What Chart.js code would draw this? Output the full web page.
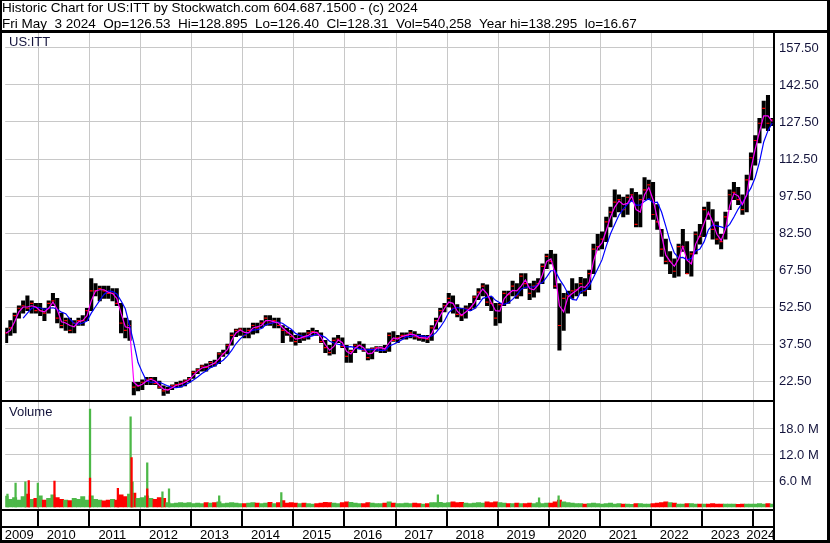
<!DOCTYPE html>
<html><head><meta charset="utf-8">
<script src="https://cdn.jsdelivr.net/npm/chart.js@4.4.1/dist/chart.umd.min.js"></script>
<style>html,body{margin:0;padding:0;background:#fff;overflow:hidden}canvas{display:block}</style>
</head><body>
<canvas id="c" width="830" height="543" style="width:830px;height:543px"></canvas>
<script>
// ---------- text ----------
const TITLE_LINES = [
  'Historic Chart for US:ITT by Stockwatch.com 604.687.1500 - (c) 2024',
  'Fri May  3 2024  Op=126.53  Hi=128.895  Lo=126.40  Cl=128.31  Vol=540,258  Year hi=138.295  lo=16.67'
];
const SYMBOL_LABEL = 'US:ITT';
const VOLUME_LABEL = 'Volume';
const YEAR_LABELS = ['2009','2010','2011','2012','2013','2014','2015','2016','2017','2018','2019','2020','2021','2022','2023','2024'];
const PRICE_TICKS = [22.5,30,37.5,45,52.5,60,67.5,75,82.5,90,97.5,105,112.5,120,127.5,135,142.5,150,157.5];
const VOLUME_TICKS = [6,12,18];

// ---------- monthly data, May 2009 .. May 2024 ----------
const FIRST_MONTH = '2009-05';
const HIGH = [
  44,47,50,53,55,57,55,54,
  54,52,55,58,56,50,48,48,47,48,49,52,
  64,62,61,61,61,60,60,54,48,47,22,22,
  23,24,24,24,22.5,20.5,20,21,22,22.5,23,24,
  26.5,27.5,29,29.5,30.5,31,34,35,37.5,42,43.5,44,
  44,44,46,46,47,49,49,48,48,45,44,43,
  41,42,42,43,44,43,42,39,37,40,41,40,
  37,35,37.5,38.5,37.5,35.5,36,36.5,36.5,37,42,42.5,
  41,42,42,43,42.5,41.5,41,41,45,48,52,54,
  58,57,53.5,52,53,54,57,60,62,61.5,56.5,54,
  54,59,59,63,62,66,66,62,63,64,70,74,
  75.5,74,62,58,59,64,62,64.5,64,67.5,78,82,
  83,89,93,100,98,97,98,100.5,99,98,105,104,
  103,94,84,80,75,72,78,84,79,75,83,86,
  93,95,92,87,82,91,100,103,101,98,106,115,
  122,129,136,138.3,129
];
const LOW = [
  38,41,42,48,50,51,50,50,
  49,47,50,53,46,44,43,42,42,45,45,47,
  51,57,55,56,56,55,53,42,40,39,16.9,18.5,
  19,21,21,21,19.5,16.67,17.5,19,20,20,20.5,22,
  23.5,25.5,26.5,26.5,28,28.5,29.5,32.5,33.5,37,40.5,41,
  40,40,41.5,42,44,45,45,44,44,38,41,38.5,
  37,38,39,39.5,41,41,38,34,33,33.5,38,36,
  30,30,34,35.5,34.5,31,31.5,34.5,34,34,34.5,38.5,
  38,39.5,39.5,40,39.5,39,38.5,38,39,43.5,46.5,50.5,
  52.5,50,48.5,47,48,51,52,55.5,57,53,51,45,
  46,53,54,57,56,57,60,55.5,56.5,58.5,62,68,
  70,60,35,43,50,56,57,58,57,59.5,66,75.5,
  76,79,85,89,91,89,90,95.5,85,85,96,96,
  88,84,73,70,66,64.5,65,75,66,65,74,78,
  81,88,80,78,76,80,92,96,94,90,91,104,
  110,119,125,124,126
];
const CLOSE = [
  42,44,49,52,53,52,54,51,
  51,50,54,55,48,45,47,43,46,47,47,51,
  59,59,60,59,58,58,54,46,43,45,20,20.5,
  22,23,23.5,21.5,20,18.5,19,20.5,21,21.5,22.5,23.5,
  26,27,28.5,28,30,29.5,33.5,33.5,37,41,43,43.5,
  41,43,45,44,46,48,46,47,45,43,42,40.5,
  38.5,41,40,42,42.5,42,38.5,36,34,39,39.5,36.5,
  32.5,34.5,37,37,35,32,35.5,36,36,35,41,39,
  40,41,41,42,40.5,40,40,39.5,44,47,51,53,
  56,52,49.5,49,52,52,56.5,58.5,61,54.5,54,48,
  53.5,58,57.5,61,57,65,62,58,61,62,69,73,
  71,61,45,56,57,59,59.5,62,59,66,76,77,
  80,87,91,95,96,92,97,98,86,96,100,102,
  90,87,76,71,71,67,77,77,66,74,82,81,
  92,90,84,80,79,89,98,99,96,92,104,113,
  120,127,133,127,128.31
];
const MA_FAST = [
  42,43,46.5,50.5,52.5,52.5,53,52.5,
  51,50.5,52,54.5,51.5,46.5,46,45,44.5,46.5,47,49,
  55,59,59.5,59.5,58.5,58,56,50,44.5,44,22,20.5,
  21.2,22.5,23.2,22.5,20.8,19.2,18.8,19.8,20.8,21.2,22,23,
  24.8,26.5,27.8,28.2,29,29.8,31.5,33.5,35.2,39,42,43.2,
  42.2,42,44,44.5,45,47,47,46.5,46,44,42.5,41.2,
  39.5,39.8,40.5,41,42.2,42.2,40.2,37.2,35,36.5,39.2,38,
  34.5,33.5,35.8,37,36,33.5,33.8,35.8,36,35.5,38,40,
  39.5,40.5,41,41.5,41.2,40.2,40,39.8,41.8,45.5,49,52,
  54.5,54,50.8,49.2,50.5,52,54.2,57.5,59.8,57.8,54.2,51,
  50.8,55.8,57.8,59.2,59,61,63.5,60,59.5,61.5,65.5,71,
  72,66,53,50.5,56.5,58,59.2,60.8,60.5,62.5,71,76.5,
  78.5,83.5,89,93,95.5,94,94.5,97.5,92,91,98,101,
  96,88.5,81.5,73.5,71,69,72,77,71.5,70,78,81.5,
  86.5,91,87,82,79.5,84,93.5,98.5,97.5,94,98,108.5,
  116.5,123.5,130,130,127.7
];
const MA_SLOW = [
  null,null,null,null,48,50,52,52.4,
  52.2,51.6,52,52.2,51.6,50.4,49.8,47.6,45.8,45.6,46,46.8,
  50,52.6,55.2,57.6,59,58.8,57.8,55,51.8,45,38,30,
  26,22.5,22,22.1,22,21.3,20.5,19.9,19.8,20.1,20.9,21.8,
  22.9,24.1,25.5,26.6,27.9,28.6,29.9,30.9,32.7,34.9,37.6,39.6,
  41.1,42.3,43.1,43.3,43.8,45.2,45.8,46.2,46.4,45.8,44.6,43.5,
  41.8,41,40.4,40.4,40.8,41.5,41,40.2,38.6,37.9,37.4,37,
  36.3,36.4,36,35.5,35.2,35.1,35.3,35.1,34.9,34.9,36.7,37.4,
  38.2,39.2,40.4,40.6,40.9,40.9,40.7,40.4,40.8,42.1,44.3,46.9,
  50.2,51.8,52.3,51.9,51.7,50.9,51.8,53.6,56,56.5,56.9,55.2,
  54.2,53.6,54.2,55.6,57.4,59.7,60.5,60.6,60.6,61.6,62.4,64.6,
  67.2,67.2,63.8,61.2,58,55.6,55.3,58.7,59.3,61.1,64.5,68,
  71.6,77.2,82.2,86,89.8,92.2,94.2,95.6,93.8,93.8,95.4,96.4,
  94.8,95,91,85.2,79,74.4,72.4,72.6,71.6,72.2,75.2,76,
  79,83.8,85.8,85.4,85,84.4,86,89,92.2,94.8,97.8,100.8,
  105,111.2,119.4,124,127.1
];
// typical weekly volume in each month, millions
const VOLUME = [
  2.5,1.8,2.2,1.6,2.4,3.0,1.8,2.0,
  2.6,1.6,2.0,2.8,2.2,1.8,1.6,1.5,2.0,1.8,2.4,1.6,
  2.6,1.8,1.6,1.4,1.6,1.8,1.6,2.8,2.4,3.0,3.2,2.0,
  2.2,2.6,2.0,1.8,2.2,2.0,1.0,0.8,0.9,1.0,0.9,1.0,
  0.8,0.9,0.8,1.0,0.9,1.0,1.2,0.8,0.9,1.0,0.9,0.8,
  0.8,0.9,1.0,0.9,0.8,0.9,1.1,0.8,1.0,1.5,0.9,1.0,
  0.9,0.8,0.9,0.8,0.7,0.8,0.9,1.1,1.0,0.9,0.8,1.0,
  1.2,1.1,0.9,0.8,0.8,1.0,0.9,0.8,0.8,0.9,1.2,0.9,
  0.8,0.8,0.9,0.8,0.9,0.8,0.7,0.8,1.0,1.0,1.1,0.9,
  1.0,1.2,1.0,1.1,0.9,0.8,0.9,1.0,0.9,1.2,1.0,1.2,
  1.0,0.9,0.8,0.8,0.9,0.8,0.8,0.9,0.8,1.0,0.8,0.9,
  0.9,1.2,1.6,1.2,1.0,0.9,0.8,0.8,0.7,0.8,0.9,0.8,
  0.7,0.8,0.9,0.7,0.8,0.7,0.7,0.6,0.8,0.8,0.7,0.7,
  0.8,0.9,1.0,1.2,1.0,0.9,0.7,0.7,0.8,0.8,0.7,0.7,
  0.7,0.7,0.8,0.7,0.7,0.7,0.7,0.7,0.6,0.7,0.7,0.7,
  0.7,0.8,0.7,0.8,0.7
];
// single heavy-volume weeks, millions
const SPIKE_DATES = ['2009-05-27','2009-07-24','2009-10-02','2009-10-26','2009-12-30','2010-04-28','2011-01-07','2011-01-07','2011-07-25','2011-10-24','2011-10-31','2011-11-07','2012-02-20','2012-02-20','2012-06-08','2012-07-25','2013-07-19','2014-10-06','2017-10-30','2019-10-23','2020-03-11'];
const SPIKE_VOL   = [3.0,5.5,5.8,6.1,5.5,6.0,22.6,6.7,4.3,20.8,11.4,5.8,10.2,4.2,3.5,4.2,2.6,3.3,2.8,2.1,2.6];
const SPIKE_UP    = [true,true,true,false,true,false,true,false,false,true,false,true,true,false,true,true,true,true,true,true,true];

// ---------- styles ----------
const FONT = '"Liberation Sans", Arial, Helvetica, sans-serif';
const TXT = '#14143c';
const GRID = '#c8c8c8';
const GREEN = '#4cb848';
const RED = '#ff0000';
const CLEAR = 'rgba(0,0,0,0)';

// ---------- helpers ----------
const X0 = 2009.357, X1 = 2024.39;
const [fy, fm] = FIRST_MONTH.split('-').map(Number);
const monthX = HIGH.map((_, i) => fy + (fm - 1 + i + 0.5) / 12);
function dateToYear(s) {
  const [y, m, d] = s.split('-').map(Number);
  const start = Date.UTC(y, 0, 1), end = Date.UTC(y + 1, 0, 1);
  return y + (Date.UTC(y, m - 1, d) - start + 43200000) / (end - start);
}
const bounds = YEAR_LABELS.slice(1).map(Number);
const labelPos = new Map();
YEAR_LABELS.forEach((lab) => {
  const y = Number(lab);
  const a = Math.max(y, X0), b = Math.min(y + 1, X1);
  labelPos.set((a + b) / 2 - 0.045, lab);
});
const labelTicks = [X0, ...labelPos.keys(), X1].sort((a, b) => a - b);

const priceBars = monthX.map((x, i) => ({x, y: [LOW[i], HIGH[i]]}));
const closePts = monthX.map((x, i) => ({x, y: CLOSE[i]}));
const fastPts = monthX.map((x, i) => ({x, y: MA_FAST[i]}));
const slowPts = monthX.map((x, i) => ({x, y: MA_SLOW[i]}));
const volPts = monthX.map((x, i) => ({x, y: VOLUME[i]}));
const volColors = CLOSE.map((c, i) => (i === 0 || c >= CLOSE[i - 1]) ? GREEN : RED);
const spikeUp = [], spikeDn = [];
SPIKE_DATES.forEach((d, i) => (SPIKE_UP[i] ? spikeUp : spikeDn).push({x: dateToYear(d), y: SPIKE_VOL[i]}));

// ---------- year grid + frame plugin ----------
const frame = {
  id: 'frame',
  beforeDatasetsDraw(chart) {
    const {ctx, chartArea: ca, scales} = chart;
    ctx.save();
    ctx.strokeStyle = GRID;
    ctx.lineWidth = 1;
    ctx.beginPath();
    bounds.forEach(b => {
      const px = Math.round(scales.x.getPixelForValue(b)) + 0.5;
      ctx.moveTo(px, ca.top);
      ctx.lineTo(px, ca.bottom);
    });
    ctx.stroke();
    ctx.restore();
  },
  afterDraw(chart) {
    const {ctx, chartArea: ca, scales} = chart;
    const xs = scales.x, yV = scales.yV, yP = scales.yP;
    ctx.save();
    ctx.fillStyle = '#000';
    ctx.fillRect(0, 0, 830, 1);            // top
    ctx.fillRect(0, 0, 2, 543);            // left
    ctx.fillRect(827, 0, 3, 543);          // right outer
    ctx.fillRect(0, 540, 830, 3);          // bottom
    ctx.fillRect(0, 30, 830, 3);           // under header
    ctx.fillRect(ca.right, 31, 2, 510);    // plot right border
    ctx.fillRect(0, yV.top, ca.right + 2, 2); // panel separator
    ctx.fillRect(0, ca.bottom, ca.right + 2, 2); // under volume
    ctx.fillRect(0, ca.bottom + 17, ca.right + 2, 2); // under tick row
    bounds.forEach(b => {
      const px = Math.round(xs.getPixelForValue(b));
      ctx.fillRect(px - 1, ca.bottom, 2, 17);
    });
    ctx.fillStyle = TXT;
    ctx.font = '13px ' + FONT;
    ctx.textBaseline = 'middle';
    ctx.textAlign = 'left';
    ctx.fillText(SYMBOL_LABEL, 9, yP.top + 9);
    ctx.fillText(VOLUME_LABEL, 9, yV.top + 12);
    ctx.restore();
  }
};

Chart.defaults.font.family = FONT;
Chart.defaults.color = TXT;

new Chart(document.getElementById('c'), {
  data: {
    datasets: [
      {type: 'line', data: fastPts, yAxisID: 'yP', borderColor: '#ff00ff', borderWidth: 1.2, pointRadius: 0, tension: 0, order: 0},
      {type: 'line', data: slowPts, yAxisID: 'yP', borderColor: '#0000ff', borderWidth: 1.2, pointRadius: 0, tension: 0, spanGaps: false, order: 1},
      {type: 'line', data: closePts, yAxisID: 'yP', showLine: false, pointStyle: 'line', pointRadius: 1.5, pointBorderColor: RED, pointBorderWidth: 1.2, order: 2},
      {type: 'bar', data: priceBars, yAxisID: 'yP', backgroundColor: '#000', barThickness: 3.4, grouped: false, order: 3},
      {type: 'bar', data: spikeDn, yAxisID: 'yV', backgroundColor: RED, barThickness: 1.6, grouped: false, order: 4},
      {type: 'bar', data: spikeUp, yAxisID: 'yV', backgroundColor: GREEN, barThickness: 1.6, grouped: false, order: 5},
      {type: 'bar', data: volPts, yAxisID: 'yV', backgroundColor: volColors, barThickness: 4.3, grouped: false, order: 6}
    ]
  },
  options: {
    responsive: false,
    animation: false,
    events: [],
    layout: {padding: {left: 2, right: 0, top: 0, bottom: 0}},
    plugins: {
      legend: {display: false},
      tooltip: {enabled: false},
      title: {
        display: true, text: TITLE_LINES, align: 'start', color: '#000', padding: 0,
        font: {family: FONT, size: 13.5, weight: 'normal', lineHeight: '16.5px'}
      }
    },
    scales: {
      x: {
        type: 'linear', position: 'bottom', min: X0, max: X1, offset: false,
        afterBuildTicks: s => { s.ticks = labelTicks.map(v => ({value: v})); },
        afterFit: s => { s.height = 34; },
        grid: {offset: false, drawTicks: true, tickLength: 19, tickColor: CLEAR, color: CLEAR, lineWidth: 1},
        border: {display: false},
        ticks: {autoSkip: false, maxRotation: 0, minRotation: 0, padding: 0, color: '#000', font: {size: 13},
                callback: v => labelPos.get(v) || ''}
      },
      yP: {
        type: 'linear', position: 'right', stack: 'v', stackWeight: 367, min: 14.8, max: 163.58,
        afterBuildTicks: s => { s.ticks = PRICE_TICKS.map(v => ({value: v})); },
        afterFit: s => { s.width = 57; },
        grid: {drawTicks: false, color: GRID, lineWidth: 1},
        border: {display: false},
        ticks: {padding: 6, font: {size: 13}, callback: v => v.toFixed(2)}
      },
      yV: {
        type: 'linear', position: 'right', stack: 'v', stackWeight: 109, min: -0.46, max: 24.69,
        afterBuildTicks: s => { s.ticks = VOLUME_TICKS.map(v => ({value: v})); },
        afterFit: s => { s.width = 57; },
        grid: {drawTicks: false, color: GRID, lineWidth: 1},
        border: {display: false},
        ticks: {padding: 6, font: {size: 13}, callback: v => v.toFixed(1) + ' M'}
      }
    }
  },
  plugins: [frame]
});
</script>
</body></html>
